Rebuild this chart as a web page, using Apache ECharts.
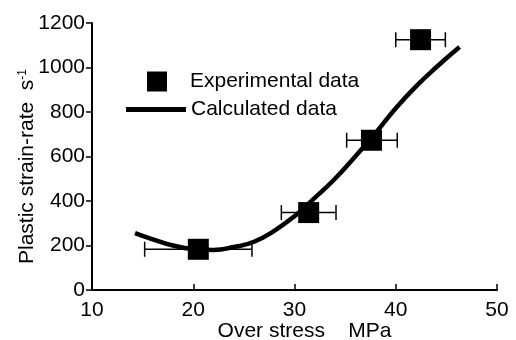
<!DOCTYPE html>
<html>
<head>
<meta charset="utf-8">
<script src="https://cdn.jsdelivr.net/npm/echarts@6/dist/echarts.min.js"></script>
<style>
  html, body { margin: 0; padding: 0; background: #fff; }
  #chart { width: 516px; height: 340px; }
</style>
</head>
<body>
<div id="chart"></div>
<script>
// experimental points with horizontal error bars
const expStress = [20.5, 31.4, 37.6, 42.45];
const expRate = [183, 348, 673, 1125];
const stressLow = [15.2, 28.7, 35.15, 40.0];
const stressHigh = [25.8, 34.1, 40.15, 44.9];

// calculated curve
const calcStress = [14.25, 16, 18, 20, 22, 24, 26, 28, 30, 32, 34, 36, 38, 40, 42, 44, 46.3];
const calcRate = [256, 228, 200, 184, 180, 193, 217, 266, 332, 414, 500, 600, 705, 817, 915, 1001, 1092];

const xTicks = [10, 20, 30, 40, 50];
const yTicks = [0, 200, 400, 600, 800, 1000, 1200];

const FONT = "Liberation Sans";
const FS = 21;
const chart = echarts.init(document.getElementById("chart"));

const expData = expStress.map((x, i) => [x, expRate[i], stressLow[i], stressHigh[i]]);
const calcData = calcStress.map((x, i) => [x, calcRate[i]]);

const option = {
  animation: false,
  textStyle: { fontFamily: FONT, color: "#000" },
  grid: {
    left: 92, right: 19, top: 23, bottom: 50,
    containLabel: false, outerBoundsMode: "none",
  },
  legend: [
    {
      data: [{ name: "Experimental data", icon: "rect" }],
      left: 147, top: 71, padding: 0,
      itemWidth: 20, itemHeight: 20,
      textStyle: { fontFamily: FONT, fontSize: FS, color: "#000", padding: [0, 0, 0, 18] },
    },
    {
      data: [{ name: "Calculated data", icon: "path://M0,0 H60 V5 H0 Z" }],
      left: 126, top: 99, padding: 0,
      itemWidth: 60, itemHeight: 5,
      textStyle: { fontFamily: FONT, fontSize: FS, color: "#000" },
    },
  ],
  xAxis: {
    type: "value",
    min: xTicks[0], max: xTicks[xTicks.length - 1], interval: 10,
    name: "Over stress    MPa",
    nameLocation: "middle", nameGap: 31, nameMoveOverlap: false,
    nameTextStyle: { fontFamily: FONT, fontSize: FS, color: "#000", padding: [0, 0, 0, 20] },
    axisLine: { lineStyle: { color: "#000", width: 2 } },
    axisTick: { inside: true, length: 6, lineStyle: { color: "#000", width: 1.5 } },
    axisLabel: { fontFamily: FONT, fontSize: FS, color: "#000", margin: 10 },
    splitLine: { show: false },
  },
  yAxis: {
    type: "value",
    min: yTicks[0], max: yTicks[yTicks.length - 1], interval: 200,
    name: "{a|Plastic strain-rate  s}{b|-1}",
    nameLocation: "middle", nameGap: 54, nameMoveOverlap: false,
    nameTextStyle: {
      fontFamily: FONT, fontSize: FS, color: "#000", padding: [0, 20, 0, 0],
      rich: {
        a: { fontFamily: FONT, fontSize: FS, color: "#000" },
        b: { fontFamily: FONT, fontSize: 12, color: "#000", verticalAlign: "top", lineHeight: 12 },
      },
    },
    axisLine: { show: true, lineStyle: { color: "#000", width: 2 } },
    axisTick: { show: true, length: 6, lineStyle: { color: "#000", width: 1.5 } },
    axisLabel: {
      fontFamily: FONT, fontSize: FS, color: "#000", margin: 7,
      formatter: (v) => String(v),
    },
    splitLine: { show: false },
  },
  series: [
    {
      name: "errorbars",
      type: "custom",
      data: expData,
      z: 1,
      renderItem: (params, api) => {
        const y = api.value(1);
        const lo = api.coord([api.value(2), y]);
        const hi = api.coord([api.value(3), y]);
        const h = 7.5;
        const st = { stroke: "#000", lineWidth: 1.5 };
        return {
          type: "group",
          children: [
            { type: "line", shape: { x1: lo[0], y1: lo[1], x2: hi[0], y2: hi[1] }, style: st },
            { type: "line", shape: { x1: lo[0], y1: lo[1] - h, x2: lo[0], y2: lo[1] + h }, style: st },
            { type: "line", shape: { x1: hi[0], y1: hi[1] - h, x2: hi[0], y2: hi[1] + h }, style: st },
          ],
        };
      },
    },
    {
      name: "Calculated data",
      type: "line",
      data: calcData,
      smooth: true,
      symbol: "none",
      z: 2,
      lineStyle: { color: "#000", width: 4.5 },
      itemStyle: { color: "#000" },
    },
    {
      name: "Experimental data",
      type: "scatter",
      data: expData.map((d) => [d[0], d[1]]),
      symbol: "rect",
      symbolSize: 21,
      z: 3,
      itemStyle: { color: "#000", opacity: 1 },
    },
  ],
};

chart.setOption(option);
</script>
</body>
</html>
